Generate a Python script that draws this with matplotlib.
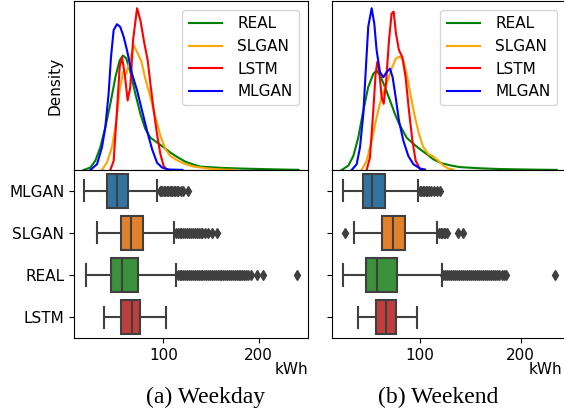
import matplotlib
matplotlib.use("Agg")
import matplotlib.pyplot as plt

# ---- data ----
groups = ["MLGAN", "SLGAN", "REAL", "LSTM"]            # box rows, top to bottom
box_colors = ["#3274a1", "#e1812c", "#3a923a", "#c03d3e"]
kde_order = ["REAL", "SLGAN", "LSTM", "MLGAN"]          # legend / drawing order
kde_colors = ["green", "orange", "red", "blue"]

# box stats: (whislo, q1, med, q3, whishi)
wd_stats = {
    "MLGAN": (16.8, 40.8, 51.6, 63.2, 93.7),
    "SLGAN": (29.9, 55.2, 65.7, 78.9, 111.6),
    "REAL": (18.6, 44.9, 56.8, 73.7, 113.4),
    "LSTM": (37.2, 55.2, 67.4, 75.8, 102.5),
}
we_stats = {
    "MLGAN": (23.2, 43.4, 52.9, 65.2, 98.3),
    "SLGAN": (34.5, 62.0, 73.5, 85.1, 117.2),
    "REAL": (23.9, 46.3, 57.6, 76.8, 121.5),
    "LSTM": (39.0, 56.3, 66.2, 75.9, 96.7),
}

# outliers (kWh)
wd_fliers = {
    "MLGAN": [96, 97.5, 99, 100.5, 102, 103.5, 105, 106.5, 108, 109.5, 111,
              112.5, 114, 115.5, 118, 121, 126],
    "SLGAN": [113, 115, 117, 119, 121, 123, 125, 127, 129, 131, 133, 135, 137,
              139, 141, 144, 147, 151, 156],
    "REAL": [115, 117, 119, 121, 123, 125, 127, 129, 131, 133, 135, 137, 139,
             141, 143, 145, 147, 149, 151, 153, 155, 157, 159, 161, 163, 165,
             167, 169, 171, 173, 175, 177, 179, 181, 183, 185, 187, 189, 192,
             198, 205, 240],
    "LSTM": [],
}
we_fliers = {
    "MLGAN": [100, 101.5, 103, 104.5, 106, 107.5, 109, 111, 113.5, 116.5, 119.5],
    "SLGAN": [25.5, 119, 120.5, 122, 123.5, 125, 126.5, 137.5, 142.5],
    "REAL": [123, 125, 127, 129, 131, 133, 135, 137, 139, 141, 143, 145, 147,
             149, 151, 153, 155, 157, 159, 161, 163, 165, 167, 169, 171, 173,
             175, 177, 179, 181, 183, 185, 234],
    "LSTM": [],
}

# density curves (kWh, density x 1e-3)
wd_real_x = [16.1, 23.1, 28.4, 33.7, 38.9, 44.2, 49.5, 54.0, 57.5, 61.0, 65.2,
             70.5, 75.8, 81.0, 86.3, 93.3, 100.3, 107.4, 114.4, 123.2, 131.9,
             139, 160, 181, 202, 223, 242]
wd_real_y = [0, 0.5, 1.9, 4.7, 8.8, 13.7, 19.2, 22.7, 23.7, 23.1, 20.3, 15.8,
             11.6, 8.5, 6.7, 5.7, 4.7, 3.6, 2.7, 1.7, 1.1, 0.7, 0.45, 0.3, 0.2,
             0.1, 0.03]
wd_slgan_x = [35.4, 40.7, 45.9, 50.5, 54.0, 57.5, 61.0, 64.5, 68.8, 72.3, 76.5,
              81.0, 86.3, 91.6, 96.8, 102.1, 107.4, 114.4, 123.2, 131.9, 145,
              160, 175]
wd_slgan_y = [0, 1.6, 4.7, 10.2, 16.5, 20.3, 19.9, 22.7, 25.8, 24.4, 22.7, 18.9,
              15.1, 10.9, 7.1, 4.3, 2.9, 2.0, 1.2, 0.7, 0.35, 0.1, 0.02]
wd_lstm_x = [44.2, 47.7, 51.2, 54.0, 56.5, 59.3, 62.4, 65.2, 68.1, 72.3, 75.8,
             80.0, 83.5, 86.3, 89.8, 93.3, 96.8, 100.3, 103.8]
wd_lstm_y = [0, 1.9, 12.3, 21.3, 23.3, 19.9, 14.4, 17.2, 26.9, 33.5, 31.0, 26.2,
             22.7, 17.9, 12.3, 7.4, 3.3, 0.8, 0]
wd_mlgan_x = [23.1, 30.2, 35.4, 38.9, 42.4, 44.9, 47.7, 51.2, 54.7, 58.2, 61.7,
              67.0, 72.3, 77.5, 82.8, 88.1, 93.3, 98.6, 105.6, 120]
wd_mlgan_y = [0, 1.2, 4.7, 8.8, 15.8, 23.4, 29.0, 30.2, 29.6, 27.6, 24.8, 19.9,
              16.5, 12.3, 8.1, 4.3, 1.5, 0.5, 0.1, 0.02]

we_real_x = [22.3, 28.9, 33.9, 38.8, 43.8, 48.7, 53.7, 57.0, 60.3, 65.3, 70.3,
             75.2, 80.2, 86.8, 93.5, 100.1, 106.7, 113.3, 121.6, 131.5, 139.7,
             159.6, 179.4, 199, 219, 235.7]
we_real_y = [0, 0.9, 2.9, 6.7, 12.3, 17.2, 19.9, 20.6, 19.6, 17.2, 14.4, 11.6,
             9.2, 6.7, 5.4, 4.3, 3.3, 2.2, 1.4, 0.9, 0.6, 0.35, 0.2, 0.12, 0.06,
             0.02]
we_slgan_x = [42.1, 47.1, 52.1, 57.0, 62.0, 67.0, 71.9, 76.2, 80.2, 83.5, 86.8,
              91.1, 95.1, 99.1, 103.4, 108.3, 113.3, 118.3, 123.3, 128.2, 133.2]
we_slgan_y = [0, 1.9, 6.1, 10.9, 15.1, 17.9, 21.0, 23.1, 23.5, 22.7, 19.9, 15.1,
              10.9, 7.4, 4.7, 3.3, 2.8, 1.9, 0.9, 0.3, 0.1]
we_lstm_x = [47.1, 50.4, 53.7, 56.0, 57.7, 59.7, 62.0, 64.0, 66.3, 69.3, 71.9,
             73.9, 76.2, 79.2, 82.5, 85.8, 89.1, 92.5, 95.8, 100.1]
we_lstm_y = [0, 2.6, 12.3, 19.9, 22.4, 20.3, 15.1, 13.7, 17.9, 26.9, 32.4, 32.8,
             28.3, 24.8, 23.4, 19.2, 12.3, 6.1, 1.9, 0.2]
we_mlgan_x = [32.2, 37.2, 40.5, 43.8, 46.4, 48.7, 52.1, 54.7, 57.0, 60.3, 63.7,
              67.0, 70.3, 72.9, 75.9, 79.2, 83.5, 88.5, 93.5, 100.1, 105]
we_mlgan_y = [0, 1.2, 4.7, 11.6, 21.3, 29.7, 33.5, 30.3, 24.8, 20.3, 19.2, 20.3,
              21.0, 19.2, 15.1, 10.2, 6.1, 2.9, 1.2, 0.3, 0.1]

wd_kde = {"REAL": (wd_real_x, wd_real_y), "SLGAN": (wd_slgan_x, wd_slgan_y),
          "LSTM": (wd_lstm_x, wd_lstm_y), "MLGAN": (wd_mlgan_x, wd_mlgan_y)}
we_kde = {"REAL": (we_real_x, we_real_y), "SLGAN": (we_slgan_x, we_slgan_y),
          "LSTM": (we_lstm_x, we_lstm_y), "MLGAN": (we_mlgan_x, we_mlgan_y)}

plt.rcParams["font.size"] = 11
GRAY = "#3f3f3f"

fig = plt.figure(figsize=(5.64, 4.11), dpi=100)


def draw_panel(left, width, xlim, kde, stats, fliers, show_labels, caption,
               cap_x, kwh_x):
    ax_d = fig.add_axes([left, 0.5864, width, 0.4112])
    ax_b = fig.add_axes([left, 0.1776, width, 0.4088])

    # density curves
    for name, col in zip(kde_order, kde_colors):
        xs, ys = kde[name]
        ax_d.plot(xs, [v * 1e-3 for v in ys], color=col, lw=1.5, label=name)
    ax_d.set_xlim(*xlim)
    ax_d.set_ylim(0, 0.035)
    ax_d.set_xticks([])
    ax_d.set_yticks([])
    ax_d.legend(loc="upper right", fontsize=11, handlelength=2.2,
                handletextpad=1.0, borderaxespad=0.6)
    if show_labels:
        ax_d.set_ylabel("Density")
        ax_d.yaxis.set_label_coords(-0.05, 0.5)

    # box plots
    bstats = []
    for g in groups:
        lo, q1, med, q3, hi = stats[g]
        bstats.append(dict(whislo=lo, q1=q1, med=med, q3=q3, whishi=hi,
                           fliers=fliers[g], label=g))
    bp = ax_b.bxp(bstats, positions=range(len(groups)), widths=0.8,
                  capwidths=0.5, orientation="horizontal", patch_artist=True,
                  boxprops=dict(edgecolor=GRAY, linewidth=1.5),
                  medianprops=dict(color=GRAY, linewidth=1.5),
                  whiskerprops=dict(color=GRAY, linewidth=1.5),
                  capprops=dict(color=GRAY, linewidth=1.5),
                  flierprops=dict(marker="d", markerfacecolor=GRAY,
                                  markeredgecolor=GRAY, markersize=5))
    for patch, col in zip(bp["boxes"], box_colors):
        patch.set_facecolor(col)
    ax_b.set_xlim(*xlim)
    ax_b.set_ylim(len(groups) - 0.5, -0.5)
    ax_b.set_yticks(range(len(groups)))
    if show_labels:
        ax_b.set_yticklabels(groups)
    else:
        ax_b.set_yticklabels([])
    ax_b.set_xticks([100, 200])
    ax_b.set_xlabel("kWh", ha="right")
    ax_b.xaxis.set_label_coords(kwh_x, -0.14)

    fig.text(cap_x, 0.0195, caption, ha="center", va="baseline",
             family="Liberation Serif", fontsize=17)


draw_panel(0.1312, 0.4149, (6, 252), wd_kde, wd_stats, wd_fliers, True,
           "(a) Weekday", 0.365, 1.0)
draw_panel(0.5881, 0.4154, (12.4, 245), we_kde, we_stats, we_fliers, False,
           "(b) Weekend", 0.777, 0.985)

fig.savefig("out.png", dpi=100)
